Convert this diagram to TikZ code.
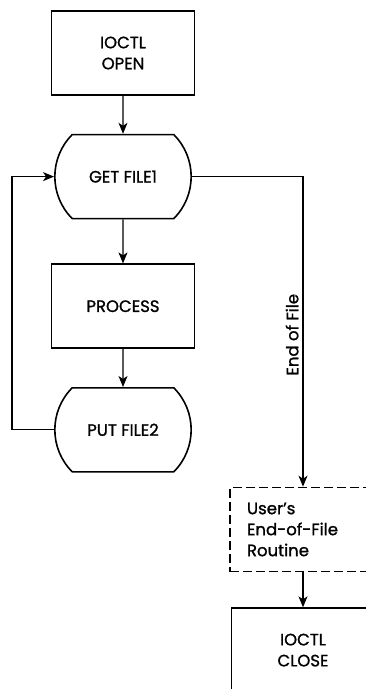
\documentclass[tikz,border=0pt]{standalone}
\usepackage{fontspec}
\setmainfont{Poppins}[FakeBold=1.2]
\usepackage{tikz}
\usetikzlibrary{shapes.misc, arrows.meta, positioning}

\begin{document}
\begin{tikzpicture}[
  x=1pt, y=-1pt,
  node distance=38pt,
  box/.style={rectangle, draw, line width=1.6pt, minimum width=143pt,
              minimum height=84pt, align=center, font=\fontsize{16.5}{21}\selectfont},
  io/.style={box, rounded rectangle, rounded rectangle arc length=90},
  userbox/.style={box, dash pattern=on 9pt off 4pt, text width=112pt,
                  align=left, inner sep=0pt},
  arr/.style={-{Stealth[length=11pt, width=9pt, inset=3pt]}, line width=1.1pt}
]
  \useasboundingbox (0,0) rectangle (366,689);
  \clip (0,0) rectangle (366,689);

  \node[box] (open) at (123,53) {IOCTL\\OPEN};
  \node[io, below=of open] (get) {GET FILE1};
  \node[box, below=44pt of get] (proc) {PROCESS};
  \node[io, below=of proc] (put) {PUT FILE2};
  \node[userbox, minimum width=146pt] (eof) at (303,529.5) {User's\\End-of-File\\Routine};
  \node[box, below=35pt of eof] (close) {IOCTL\\CLOSE};

  \draw[arr] (open) -- (get);
  \draw[arr] (get) -- (proc);
  \draw[arr] (proc) -- (put);
  \draw[arr] (put.west) -- ++(-42,0) |- (get.west);
  \draw[arr] (get.east) -| node[rotate=90, anchor=south, pos=0.755, inner sep=4pt,
      font=\fontsize{16.5}{18}\selectfont] {End of File} (eof.north);
  \draw[arr] (eof) -- (close);
\end{tikzpicture}
\end{document}
